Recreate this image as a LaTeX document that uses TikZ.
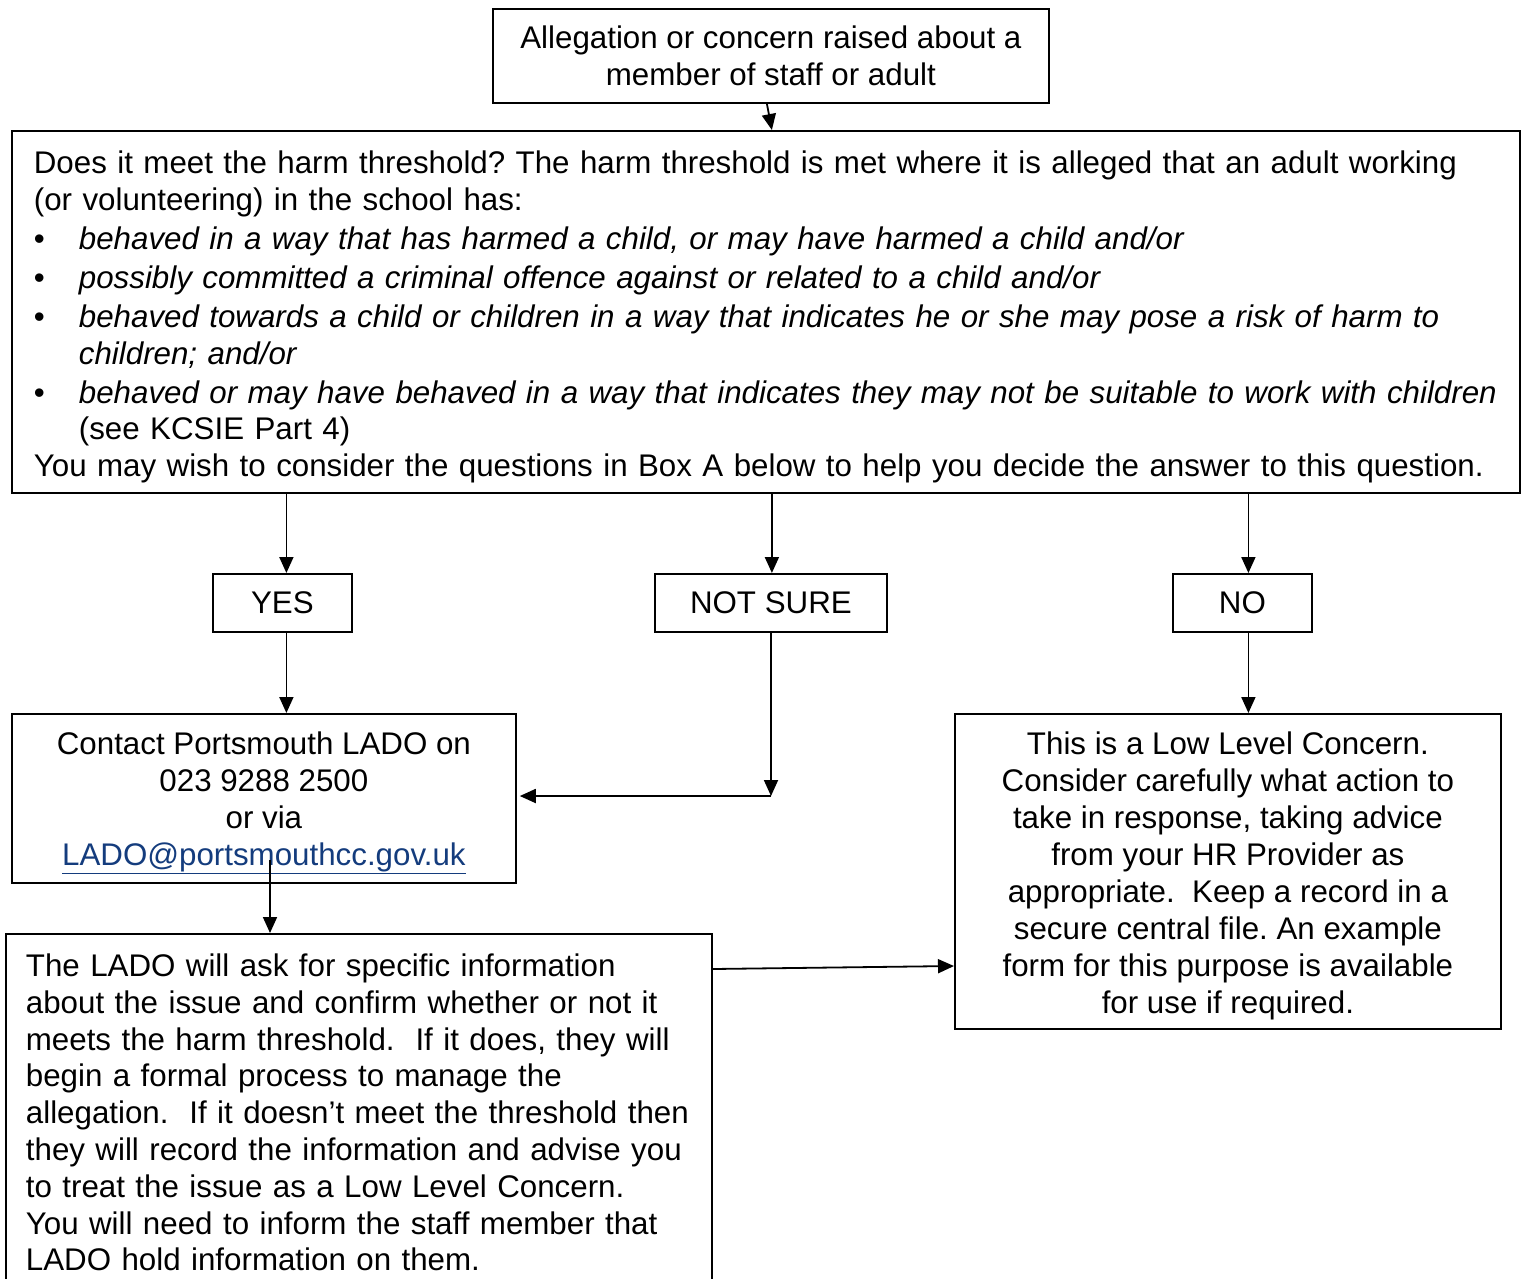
\documentclass[tikz,border=0pt]{standalone}
\usepackage{fontspec}
\setmainfont{Liberation Sans}
\usetikzlibrary{arrows.meta}
\definecolor{linkblue}{RGB}{20,60,125}
\newcommand{\bul}{\makebox[45pt][l]{\textbullet}}
\newcommand{\topstrut}{\rule{0pt}{32pt}}
\frenchspacing

\begin{document}
\begin{tikzpicture}[
        % 以像素为单位，y 轴向下
        x=1pt, y=-1pt,
        box/.style={draw, line width=1.8pt, anchor=north west, inner ysep=0pt,
            font=\fontsize{31.3}{37}\selectfont},
        arr/.style={line width=1.8pt, -{Triangle[length=16pt,width=14pt]}}
    ]
    \useasboundingbox (0,0) rectangle (1521,1278);

    % --- 顶部方框 ---
    \node[box, inner xsep=0pt, minimum width=556pt, minimum height=94pt, align=center]
        (concern) at (492,8) {Allegation or concern raised about a\\ member of staff or adult};

    % --- 阈值问题 ---
    \node[box, inner xsep=22pt, text width=1464pt, minimum height=362pt, align=left]
        (threshold) at (11,130) {%
        \mbox{\topstrut Does it meet the harm threshold? The harm threshold is met where it is alleged that an adult working}\\
        (or volunteering) in the school has:\\[2pt]
        \mbox{\bul\textit{behaved in a way that has harmed a child, or may have harmed a child and/or}}\\[2pt]
        \mbox{\bul\textit{possibly committed a criminal offence against or related to a child and/or}}\\[2pt]
        \mbox{\bul\textit{behaved towards a child or children in a way that indicates he or she may pose a risk of harm to}}\\
        \hspace*{45pt}\textit{children; and/or}\\[2pt]
        \mbox{\bul\textit{behaved or may have behaved in a way that indicates they may not be suitable to work with children}}\\[-1pt]
        \hspace*{45pt}(see KCSIE Part 4)\\
        \mbox{You may wish to consider the questions in Box A below to help you decide the answer to this question.}};

    % --- 三个答案 ---
    \node[box, inner xsep=0pt, minimum width=139pt, minimum height=58pt] (yes) at (212,573) {YES};
    \node[box, inner xsep=0pt, minimum width=232pt, minimum height=58pt] (notsure) at (654,573) {NOT SURE};
    \node[box, inner xsep=0pt, minimum width=139pt, minimum height=58pt] (no) at (1172,573) {NO};

    % --- LADO 联系方式 ---
    \node[box, inner xsep=0pt, minimum width=504pt, minimum height=169pt, align=center]
        (lado) at (11,713) {\topstrut Contact Portsmouth LADO on\\ 023 9288 2500\\ or via\\
        \textcolor{linkblue}{\underline{LADO@portsmouthcc.gov.uk}}};

    % --- 低级别关注 ---
    \node[box, inner xsep=0pt, minimum width=546pt, minimum height=315pt, align=center]
        (lowlevel) at (954,713) {\topstrut This is a Low Level Concern.\\
        Consider carefully what action to\\ take in response, taking advice\\
        from your HR Provider as\\ appropriate.\ \ Keep a record in a\\
        secure central file. An example\\ form for this purpose is available\\
        for use if required.};

    % --- LADO 的处理 ---
    \node[box, inner xsep=20pt, text width=666pt, minimum height=357pt, align=left,
        font=\fontsize{31.3}{36.8}\selectfont]
        (ladoinfo) at (5,933) {\mbox{The LADO will ask for specific information}\\
        \mbox{about the issue and confirm whether or not it}\\
        \mbox{meets the harm threshold.\ \ If it does, they will}\\
        \mbox{begin a formal process to manage the}\\
        \mbox{allegation.\ \ If it doesn’t meet the threshold then}\\
        \mbox{they will record the information and advise you}\\
        \mbox{to treat the issue as a Low Level Concern.}\\
        \mbox{You will need to inform the staff member that}\\
        \mbox{LADO hold information on them.}};

    % --- 连接箭头 ---
    \coordinate (bend) at (771,796);
    \coordinate (ladoout) at (270,860);
    \draw[arr] ([xshift=-4pt]concern.south) -- ([xshift=6pt]threshold.north);
    \draw[arr] ([xshift=4pt]yes.north |- threshold.south) -- ([xshift=4pt]yes.north);
    \draw[arr] ([xshift=1pt]notsure.north |- threshold.south) -- ([xshift=1pt]notsure.north);
    \draw[arr] ([xshift=6pt]no.north |- threshold.south) -- ([xshift=6pt]no.north);
    \draw[arr] ([xshift=4pt]yes.south) -- ([xshift=4pt]yes.south |- lado.north);
    \draw[arr] (bend |- notsure.south) -- (bend);
    \draw[arr] (bend) -- ([xshift=3pt]lado.east |- bend);
    \draw[arr] ([xshift=6pt]no.south) -- ([xshift=6pt]no.south |- lowlevel.north);
    \draw[arr] (ladoout) -- (ladoout |- ladoinfo.north);
    \draw[arr] ([yshift=-36pt]ladoinfo.north east) -- ([yshift=-253pt]lowlevel.north west);

\end{tikzpicture}
\end{document}
